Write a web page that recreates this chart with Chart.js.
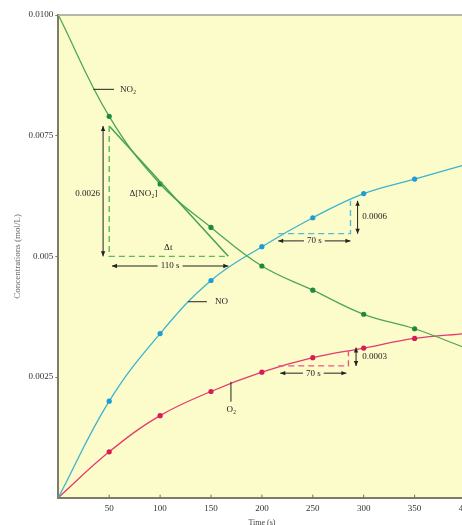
<!DOCTYPE html>
<html lang="en">
<head>
<meta charset="UTF-8">
<title>Concentration vs time</title>
<script src="https://cdn.jsdelivr.net/npm/chart.js"></script>
<style>
  html, body { margin: 0; padding: 0; background: #fff; overflow: hidden; }
  #wrap { width: 475px; height: 525px; }
</style>
</head>
<body>
<div id="wrap"><canvas id="rateChart" width="475" height="525"></canvas></div>
<script>
// time (s) and concentrations (mol/L)
const times = [0, 50, 100, 150, 200, 250, 300, 350, 400];
const no2 = [0.0100, 0.0079, 0.0065, 0.0056, 0.0048, 0.0043, 0.0038, 0.0035, 0.0031];
const no  = [0, 0.0020, 0.0034, 0.0045, 0.0052, 0.0058, 0.0063, 0.0066, 0.0069];
const o2  = [0, 0.00095, 0.0017, 0.0022, 0.0026, 0.0029, 0.0031, 0.0033, 0.0034];

const xTicks = [50, 100, 150, 200, 250, 300, 350, 400];
const yTicks = [0.0025, 0.005, 0.0075, 0.0100];
const yTickLabels = ['0.0025', '0.005', '0.0075', '0.0100'];

// tangent + rate triangles (t, conc)
const no2TanT = [50, 167];
const no2TanC = [0.0077, 0.0050];
const no2DashT = [50, 50, 167];
const no2DashC = [0.0077, 0.0050, 0.0050];
const noDashT = [216, 287, 287];
const noDashC = [0.00547, 0.00547, 0.00615];
const o2DashT = [216, 285, 285];
const o2DashC = [0.00273, 0.00273, 0.00311];

const serif = "'Liberation Serif', 'DejaVu Serif', serif";
const bg = '#fcfbca';

const pts = (ts, cs) => ts.map((t, i) => ({ x: t, y: cs[i] }));
const dotRadius = times.map(t => (t === 0 ? 0 : 2.6));

function curve(vals, line, dot) {
  return {
    data: pts(times, vals),
    borderColor: line, borderWidth: 1.3,
    pointRadius: dotRadius, pointBackgroundColor: dot, pointBorderWidth: 0,
    tension: 0.4, fill: false
  };
}
function seg(ts, cs, color, dash, w) {
  return {
    data: pts(ts, cs), borderColor: color, borderWidth: w || 1.3,
    borderDash: dash || [], pointRadius: 0, tension: 0, fill: false
  };
}

function head(ctx, x, y, ang) {
  ctx.beginPath();
  ctx.moveTo(x, y);
  ctx.lineTo(x - 5 * Math.cos(ang) + 2.2 * Math.sin(ang), y - 5 * Math.sin(ang) - 2.2 * Math.cos(ang));
  ctx.lineTo(x - 5 * Math.cos(ang) - 2.2 * Math.sin(ang), y - 5 * Math.sin(ang) + 2.2 * Math.cos(ang));
  ctx.closePath();
  ctx.fill();
}
function dblArrow(ctx, x1, y1, x2, y2) {
  ctx.beginPath(); ctx.moveTo(x1, y1); ctx.lineTo(x2, y2); ctx.stroke();
  const ang = Math.atan2(y2 - y1, x2 - x1);
  head(ctx, x2, y2, ang);
  head(ctx, x1, y1, ang + Math.PI);
}

const decor = {
  id: 'decor',
  beforeDraw(chart) {
    const { ctx, chartArea: a } = chart;
    ctx.save();
    ctx.fillStyle = bg;
    ctx.fillRect(a.left, a.top, a.right - a.left, a.bottom - a.top);
    ctx.restore();
  },
  afterDatasetsDraw(chart) {
    const { ctx, chartArea: a, scales: { x, y } } = chart;
    const px = t => x.getPixelForValue(t);
    const py = c => y.getPixelForValue(c);
    ctx.save();
    // top frame
    ctx.strokeStyle = '#b8b7a6'; ctx.lineWidth = 2;
    ctx.beginPath(); ctx.moveTo(a.left, a.top); ctx.lineTo(a.right + 10, a.top); ctx.stroke();
    // inward x tick marks
    ctx.strokeStyle = '#6f6e5c'; ctx.lineWidth = 1;
    xTicks.forEach(t => {
      ctx.beginPath(); ctx.moveTo(px(t), a.bottom); ctx.lineTo(px(t), a.bottom - 3); ctx.stroke();
    });

    ctx.strokeStyle = '#222'; ctx.fillStyle = '#222'; ctx.lineWidth = 1;
    ctx.font = '9px ' + serif;
    ctx.textBaseline = 'middle';

    // curve labels with leaders
    ctx.beginPath(); ctx.moveTo(px(34.4), py(0.00846)); ctx.lineTo(px(54.7), py(0.00846)); ctx.stroke();
    ctx.textAlign = 'left'; ctx.fillText('NO₂', px(60.5), py(0.00846));
    ctx.beginPath(); ctx.moveTo(px(127.4), py(0.00406)); ctx.lineTo(px(146), py(0.00406)); ctx.stroke();
    ctx.fillText('NO', px(154), py(0.00406));
    ctx.beginPath(); ctx.moveTo(px(169.6), py(0.0024)); ctx.lineTo(px(169.6), py(0.00199)); ctx.stroke();
    ctx.textAlign = 'center'; ctx.fillText('O₂', px(170), py(0.00183));

    // NO2 triangle
    dblArrow(ctx, px(44), py(0.0077), px(44), py(0.0050));
    ctx.textAlign = 'right'; ctx.fillText('0.0026', px(41), py(0.00629));
    ctx.textAlign = 'left'; ctx.fillText('Δ[NO₂]', px(70), py(0.00629));
    ctx.textAlign = 'center'; ctx.fillText('Δt', px(108), py(0.00519));
    function spanLabel(t1, t2, c, txt) {
      dblArrow(ctx, px(t1), py(c), px(t2), py(c));
      const w = ctx.measureText(txt).width + 6;
      const mx = (px(t1) + px(t2)) / 2;
      ctx.fillStyle = bg; ctx.fillRect(mx - w / 2, py(c) - 5, w, 10);
      ctx.fillStyle = '#222'; ctx.textAlign = 'center'; ctx.fillText(txt, mx, py(c));
    }
    spanLabel(52.7, 167, 0.0048, '110 s');

    // NO triangle
    dblArrow(ctx, px(294), py(0.00615), px(294), py(0.00547));
    ctx.textAlign = 'left'; ctx.fillText('0.0006', px(298.5), py(0.00582));
    spanLabel(216, 287, 0.00532, '70 s');

    // O2 triangle
    dblArrow(ctx, px(292.5), py(0.00311), px(292.5), py(0.00273));
    ctx.textAlign = 'left'; ctx.fillText('0.0003', px(298.5), py(0.00292));
    spanLabel(218, 283, 0.00258, '70 s');
    ctx.restore();
  }
};

new Chart(document.getElementById('rateChart'), {
  type: 'line',
  data: {
    datasets: [
      seg(no2DashT, no2DashC, '#5cb85f', [6, 4], 1.4),
      seg(noDashT, noDashC, '#55bcd8', [6, 4], 1.4),
      seg(o2DashT, o2DashC, '#e8588a', [6, 4], 1.4),
      seg(no2TanT, no2TanC, '#45a352', null, 1.5),
      curve(no2, '#4ea65a', '#1d8a3e'),
      curve(no, '#3bb3d3', '#1d9dd4'),
      curve(o2, '#e6396f', '#d81b58')
    ]
  },
  options: {
    responsive: false,
    animation: false,
    layout: { padding: { top: 15, right: 9.5, left: 0, bottom: 0 } },
    plugins: { legend: { display: false }, tooltip: { enabled: false } },
    scales: {
      x: {
        type: 'linear', min: 0, max: 400,
        afterBuildTicks: s => { s.ticks = xTicks.map(v => ({ value: v })); },
        afterFit: s => { s.height = 27.3; },
        grid: { display: false },
        border: { display: true, color: '#7d7c68', width: 2 },
        ticks: { padding: -2, color: '#333', font: { family: serif, size: 9 }, maxRotation: 0, autoSkip: false },
        title: { display: true, text: 'Time (s)', color: '#444', font: { family: serif, size: 8 }, padding: { top: 0, bottom: -3 } }
      },
      y: {
        type: 'linear', min: 0, max: 0.01,
        afterBuildTicks: s => { s.ticks = yTicks.map(v => ({ value: v })); },
        afterFit: s => { s.width = 58.3; },
        grid: { display: true, drawOnChartArea: false, drawTicks: true, tickLength: 3, color: '#7d7c68' },
        border: { display: true, color: '#7d7c68', width: 2 },
        ticks: {
          padding: 2, color: '#333', font: { family: serif, size: 9 },
          callback: v => yTickLabels[yTicks.indexOf(v)]
        },
        title: { display: true, text: 'Concentrations (mol/L)', color: '#666', font: { family: serif, size: 9 }, padding: { top: 12, bottom: 0 } }
      }
    }
  },
  plugins: [decor]
});
</script>
</body>
</html>
